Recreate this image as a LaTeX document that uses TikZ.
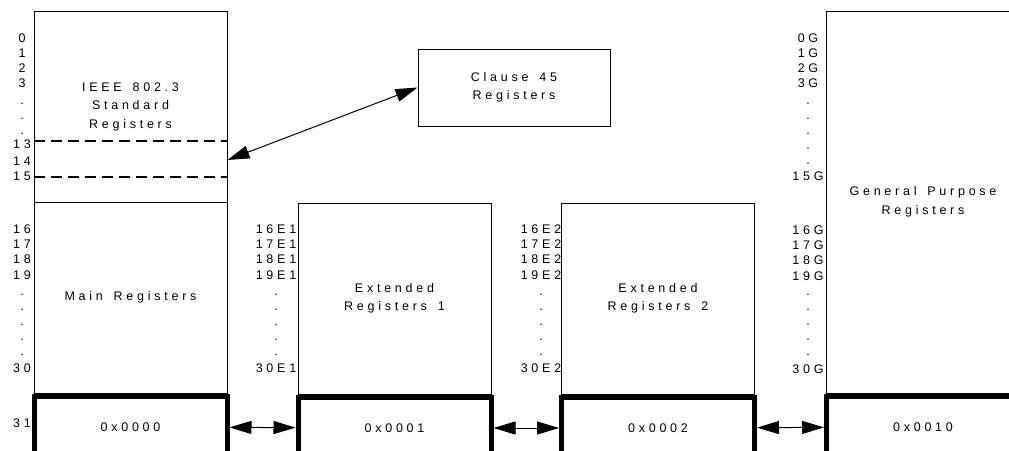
\documentclass[tikz,border=0pt]{standalone}
\usepackage{fontspec}
\setmainfont{Liberation Sans}[LetterSpace=30,WordSpace=1.5]
\usetikzlibrary{arrows.meta,positioning}

\begin{document}
\begin{tikzpicture}[
    x=1pt,y=-1pt,
    regbox/.style={draw,line width=1pt,minimum width=193pt,minimum height=191pt,inner sep=0pt,align=center},
    pagebox/.style={draw,line width=5pt,minimum width=193pt,minimum height=62pt,inner sep=0pt},
    idx/.style={anchor=base,inner sep=0pt},
    >={Triangle[length=22pt,width=13pt]},
    font=\fontsize{12.5}{18.5}\selectfont
]
    \clip (0,0) rectangle (1009,450);

    % Register blocks
    \node[regbox] (std) at (130.5,106.5) {IEEE 802.3\\Standard\\Registers};
    \node[regbox] (main) at (130.5,297.5) {Main Registers};
    \node[regbox] (ext1) at (394.5,298.5) {Extended\\Registers 1};
    \node[regbox] (ext2) at (658,298.5) {Extended\\Registers 2};
    \node[regbox,minimum height=382pt] (gp) at (923,202) {General Purpose\\Registers};
    \node[regbox,minimum width=192pt,minimum height=77pt] (c45) at (514,87.5) {Clause 45\\Registers};

    % Pages
    \node[pagebox,below=0pt of main] (p0) {0x0000};
    \node[pagebox,below=0pt of ext1] (p1) {0x0001};
    \node[pagebox,below=0pt of ext2] (p2) {0x0002};
    \node[pagebox,below=0pt of gp] (p16) {0x0010};

    % Registers 13-15
    \draw[line width=2pt,dash pattern=on 11pt off 6pt] (std.west |- 0,141) -- (std.east |- 0,141);
    \draw[line width=2pt,dash pattern=on 11pt off 6pt] (std.west |- 0,177) -- (std.east |- 0,177);
    \coordinate (mdio) at (std.east |- 0,160);

    % Register numbers
    \foreach \t/\y [count=\i] in {0/42,1/57,2/72,3/87,./104,./119,./134,13/148,14/165,15/180,
        16/233,17/248,18/263,19/279,./295,./310,./325,./340,./355,30/372,31/427}
        \node[idx] (m\i) at (22,\y) {\t};
    \foreach \t/\y [count=\i] in {16E1/233,17E1/248,18E1/263,19E1/279,./295,./310,./325,./340,./355,30E1/372}
        \node[idx] (a\i) at (276,\y) {\t};
    \foreach \t/\y [count=\i] in {16E2/233,17E2/248,18E2/263,19E2/279,./295,./310,./325,./340,./355,30E2/372}
        \node[idx] (b\i) at (541,\y) {\t};
    \foreach \t/\y [count=\i] in {0G/42,1G/57,2G/72,3G/87,./104,./119,./134,./149,./164,15G/180,
        16G/234,17G/249,18G/264,19G/280,./295,./310,./325,./340,./355,30G/373}
        \node[idx] (g\i) at (808,\y) {\t};

    % Arrows
    \draw[<->,line width=1pt] (mdio) -- (c45.west);
    \draw[<->,line width=1pt] (p0) -- (p1);
    \draw[<->,line width=1pt] (p1) -- (p2);
    \draw[<->,line width=1pt] (p2) -- (p16);
\end{tikzpicture}
\end{document}
